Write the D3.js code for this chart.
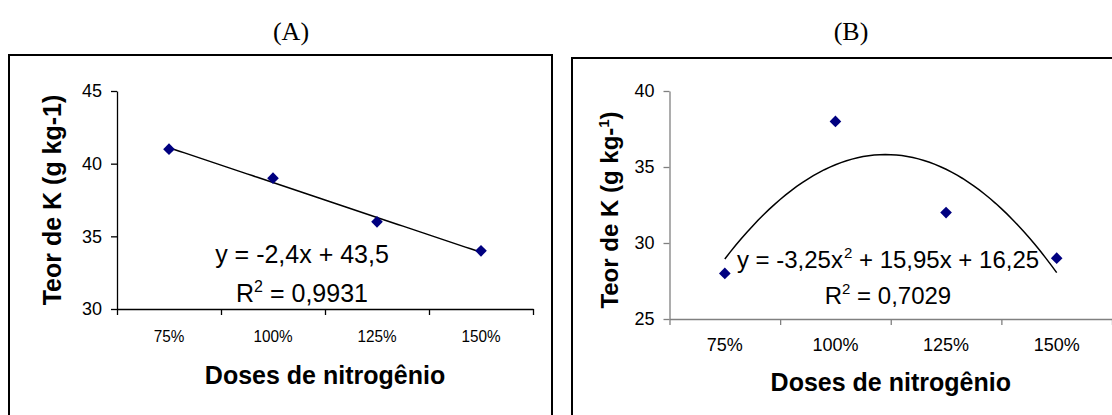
<!DOCTYPE html>
<html>
<head>
<meta charset="utf-8">
<script src="https://cdn.jsdelivr.net/npm/d3@7"></script>
<style>
  html, body { margin: 0; padding: 0; background: #fff; }
  svg { display: block; }
  text { font-family: "Liberation Sans", Arial, sans-serif; fill: #000; }
</style>
</head>
<body>
<svg id="chart" width="1112" height="415"></svg>
<script>
// ---- data ----
const categories = ["75%", "100%", "125%", "150%"];
const valuesA = [41, 39, 36, 34];
const valuesB = [28, 38, 32, 29];
const yTicksA = [30, 35, 40, 45];
const yTicksB = [25, 30, 35, 40];
const trendA = [-2.4, 43.5];            // y = a*x + b
const trendB = [-3.25, 15.95, 16.25];   // y = a*x^2 + b*x + c
const panelTitles = ["(A)", "(B)"];
const eqA = ["y = -2,4x + 43,5", "0,9931"];
const eqB = ["0,7029"];

const svg = d3.select("#chart");

function panel(cfg) {
  const g = svg.append("g");
  // frame
  g.append("rect").attr("x", cfg.box[0]).attr("y", cfg.box[1])
    .attr("width", cfg.box[2]).attr("height", cfg.box[3])
    .attr("fill", "none").attr("stroke", "#000").attr("stroke-width", 2);
  // panel title
  g.append("text").attr("x", cfg.titleX).attr("y", 40)
    .attr("text-anchor", "middle")
    .style("font-family", "'Liberation Serif','Times New Roman',serif")
    .style("font-size", "26px").text(cfg.title);

  const x = d3.scaleLinear().domain([0.5, 4.5]).range(cfg.xr);
  const y = d3.scaleLinear().domain(cfg.yDomain).range(cfg.yr);

  // y axis
  const ya = g.append("g").attr("transform", `translate(${cfg.xr[0]},0)`)
    .call(d3.axisLeft(y).tickValues(cfg.yTicks).tickSize(6).tickPadding(9).tickSizeOuter(0));
  ya.select(".domain").attr("stroke", cfg.axisColor).attr("stroke-width", 1.3);
  ya.selectAll(".tick line").attr("stroke", cfg.axisColor).attr("stroke-width", 1.3);
  ya.selectAll(".tick text").style("font-size", "18px").attr("fill", "#000")
    .style("font-family", "'Liberation Sans',Arial,sans-serif");

  // x axis (ticks at category boundaries)
  const xa = g.append("g").attr("transform", `translate(0,${cfg.yr[0]})`)
    .call(d3.axisBottom(x).tickValues([0.5, 1.5, 2.5, 3.5, 4.5]).tickSize(6).tickFormat("").tickSizeOuter(0));
  xa.select(".domain").attr("stroke", cfg.axisColor).attr("stroke-width", 1.3);
  xa.selectAll(".tick line").attr("stroke", cfg.axisColor).attr("stroke-width", 1.3);

  // category labels
  g.selectAll(".cat").data(categories).enter().append("text")
    .attr("class", "cat")
    .attr("x", (d, i) => x(i + 1)).attr("y", cfg.yr[0] + cfg.catDy)
    .attr("text-anchor", "middle")
    .style("font-size", cfg.catSize + "px")
    .attr("transform", (d, i) => cfg.catSqueeze ? `translate(${x(i + 1)},0) scale(${cfg.catSqueeze},1) translate(${-x(i + 1)},0)` : null)
    .text(d => d);

  // axis titles
  g.append("text").attr("x", (cfg.xr[0] + cfg.xr[1]) / 2).attr("y", cfg.xTitleY)
    .attr("text-anchor", "middle").style("font-size", "25px").style("font-weight", "bold")
    .text("Doses de nitrogênio");
  const yt = g.append("text")
    .attr("transform", `translate(${cfg.yTitle[0]},${cfg.yTitle[1]}) rotate(-90)`)
    .attr("text-anchor", "middle").style("font-size", cfg.yTitleSize + "px").style("font-weight", "bold");
  if (cfg.supTitle) {
    yt.append("tspan").text("Teor de K (g kg-");
    yt.append("tspan").attr("dy", -9).style("font-size", "15px").text("1");
    yt.append("tspan").attr("dy", 9).text(")");
  } else {
    yt.text("Teor de K (g kg-1)");
  }

  // trend line
  const xs = d3.range(1, 4.0001, 0.05);
  const line = d3.line().x(d => x(d)).y(d => y(cfg.trend(d))).curve(d3.curveLinear);
  g.append("path").datum(xs).attr("d", line)
    .attr("fill", "none").attr("stroke", "#000").attr("stroke-width", 1.5);

  // markers
  g.selectAll(".pt").data(cfg.values).enter().append("path")
    .attr("class", "pt")
    .attr("d", d3.symbol().type(d3.symbolSquare).size(68))
    .attr("transform", (d, i) => `translate(${x(i + 1)},${y(d)}) rotate(45)`)
    .attr("fill", "#000080");

  return { g, x, y };
}

// Panel A
const pa = panel({
  box: [9, 55, 543, 400], title: panelTitles[0], titleX: 291,
  xr: [117, 533], yr: [309, 91], yDomain: [30, 45], yTicks: yTicksA,
  axisColor: "#000", values: valuesA,
  trend: t => trendA[0] * t + trendA[1],
  catDy: 33, catSize: 17, catSqueeze: 0.9, xTitleY: 384,
  yTitle: [61, 200], yTitleSize: 25, supTitle: false
});
pa.g.append("text").attr("x", 302).attr("y", 263).attr("text-anchor", "middle")
  .style("font-size", "25px").text(eqA[0]);
const rA = pa.g.append("text").attr("x", 302).attr("y", 302).attr("text-anchor", "middle")
  .style("font-size", "25px");
rA.append("tspan").text("R");
rA.append("tspan").attr("dy", -10).style("font-size", "16px").text("2");
rA.append("tspan").attr("dy", 10).text(" = " + eqA[1]);

// Panel B
const pb = panel({
  box: [572, 58, 545, 400], title: panelTitles[1], titleX: 851,
  xr: [669.5, 1112], yr: [319, 91], yDomain: [25, 40], yTicks: yTicksB,
  axisColor: "#808080", values: valuesB,
  trend: t => trendB[0] * t * t + trendB[1] * t + trendB[2],
  catDy: 32, catSize: 18, catSqueeze: null, xTitleY: 391,
  yTitle: [618, 210], yTitleSize: 24, supTitle: true
});
const eB = pb.g.append("text").attr("x", 888).attr("y", 267.5).attr("text-anchor", "middle")
  .style("font-size", "24px");
eB.append("tspan").text("y = -3,25x");
eB.append("tspan").attr("dy", -10).attr("dx", 1).style("font-size", "15px").text("2");
eB.append("tspan").attr("dy", 10).text(" + 15,95x + 16,25");
const rB = pb.g.append("text").attr("x", 888).attr("y", 304).attr("text-anchor", "middle")
  .style("font-size", "24px");
rB.append("tspan").text("R");
rB.append("tspan").attr("dy", -10).style("font-size", "15px").text("2");
rB.append("tspan").attr("dy", 10).text(" = " + eqB[0]);
</script>
</body>
</html>
